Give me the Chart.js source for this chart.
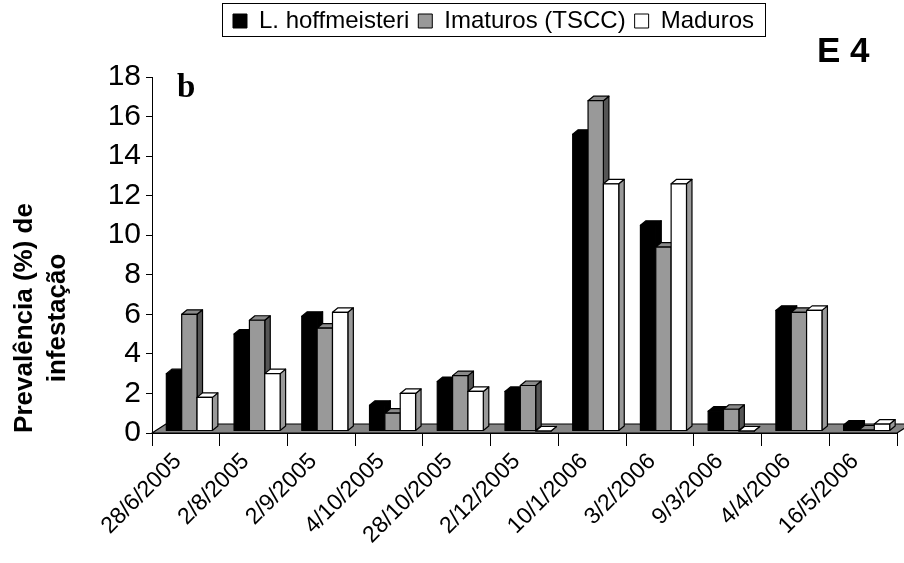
<!DOCTYPE html>
<html>
<head>
<meta charset="utf-8">
<script src="https://cdn.jsdelivr.net/npm/chart.js@4.4.0/dist/chart.umd.min.js"></script>
<style>
  html, body { margin: 0; padding: 0; background: #fff; }
</style>
</head>
<body>
<canvas id="grafico" width="904" height="563"></canvas>
<script>
const fechas = ['28/6/2005', '2/8/2005', '2/9/2005', '4/10/2005', '28/10/2005', '2/12/2005',
  '10/1/2006', '3/2/2006', '9/3/2006', '4/4/2006', '16/5/2006'];
const hoffmeisteri = [2.9, 4.9, 5.8, 1.3, 2.5, 2.0, 15.0, 10.4, 1.0, 6.1, 0.3];
const imaturos = [5.9, 5.6, 5.2, 0.9, 2.8, 2.3, 16.7, 9.3, 1.1, 6.0, 0.05];
const maduros = [1.7, 2.9, 6.0, 1.9, 2.0, 0, 12.5, 12.5, 0, 6.1, 0.35];
const ticksY = [0, 2, 4, 6, 8, 10, 12, 14, 16, 18];

// colores de cada serie: frente, tapa, lado
const estilos = [
  { frente: '#000000', tapa: '#000000', lado: '#000000' },
  { frente: '#999999', tapa: '#8a8a8a', lado: '#555555' },
  { frente: '#ffffff', tapa: '#ffffff', lado: '#999999' },
];

const PROF_BARRA = [5.5, -4.5];   // profundidad de cada barra
const DESPL_BARRA = [3.5, -2];    // barras un poco detras del frente
const PROF_PISO = [14, -9];

const dibujarCara = (ctx, puntos, relleno) => {
  ctx.beginPath();
  ctx.moveTo(puntos[0][0], puntos[0][1]);
  puntos.slice(1).forEach(([x, y]) => ctx.lineTo(x, y));
  ctx.closePath();
  ctx.fillStyle = relleno;
  ctx.fill();
  ctx.stroke();
};

const dibujarBarra = (ctx, barra, estilo) => {
  const [dx, dy] = PROF_BARRA;
  const x0 = barra.x - barra.width / 2 + DESPL_BARRA[0];
  const x1 = barra.x + barra.width / 2 + DESPL_BARRA[0];
  const arriba = barra.y + DESPL_BARRA[1];
  const base = barra.base + DESPL_BARRA[1];
  dibujarCara(ctx, [[x1, base], [x1 + dx, base + dy], [x1 + dx, arriba + dy], [x1, arriba]], estilo.lado);
  dibujarCara(ctx, [[x0, arriba], [x0 + dx, arriba + dy], [x1 + dx, arriba + dy], [x1, arriba]], estilo.tapa);
  dibujarCara(ctx, [[x0, arriba], [x1, arriba], [x1, base], [x0, base]], estilo.frente);
};

const barras3D = {
  id: 'barras3D',
  beforeDatasetsDraw(chart) {
    const ctx = chart.ctx;
    const { left, right, bottom } = chart.chartArea;
    ctx.save();
    ctx.strokeStyle = '#000';
    ctx.lineWidth = 1.2;
    ctx.lineJoin = 'round';
    // piso gris
    dibujarCara(ctx, [[left, bottom], [right, bottom],
      [right + PROF_PISO[0], bottom + PROF_PISO[1]], [left + PROF_PISO[0], bottom + PROF_PISO[1]]], '#858585');
    // barras de izquierda a derecha
    fechas.forEach((_, i) => {
      chart.data.datasets.forEach((_, d) => {
        dibujarBarra(ctx, chart.getDatasetMeta(d).data[i], estilos[d]);
      });
    });
    ctx.restore();
    return false;
  },
  afterDraw(chart) {
    const ctx = chart.ctx;
    ctx.save();
    ctx.fillStyle = '#000';
    // titulo del eje y
    ctx.font = 'bold 26px "Liberation Sans", Arial, sans-serif';
    ctx.textAlign = 'center';
    ctx.textBaseline = 'alphabetic';
    ctx.translate(32, 318);
    ctx.rotate(-Math.PI / 2);
    ctx.fillText('Prevalência (%) de', 0, 0);
    ctx.fillText('infestação', 0, 33);
    ctx.restore();

    ctx.save();
    ctx.fillStyle = '#000';
    ctx.textAlign = 'left';
    ctx.textBaseline = 'alphabetic';
    ctx.font = 'bold 33px "Liberation Serif", "Times New Roman", serif';
    ctx.fillText('b', 177, 97);
    ctx.font = 'bold 35px "Liberation Sans", Arial, sans-serif';
    ctx.fillText('E 4', 817, 62);

    // marco de la leyenda
    const leyenda = chart.legend;
    const pad = leyenda.options.labels.padding;
    const ancho = leyenda.lineWidths[0];
    const inicio = (leyenda.left + pad + leyenda.right - ancho) / 2;
    ctx.strokeStyle = '#000';
    ctx.lineWidth = 1;
    ctx.strokeRect(Math.round(inicio - 11) + 0.5, 3.5, Math.round(ancho - pad + 22), 33);
    ctx.restore();
  },
};

const alturaLeyenda = {
  id: 'alturaLeyenda',
  beforeInit(chart) {
    const fitOriginal = chart.legend.fit;
    chart.legend.fit = function () {
      fitOriginal.bind(chart.legend)();
      this.height = 77;
    };
  },
};

const fuente = '"Liberation Sans", Arial, sans-serif';

new Chart(document.getElementById('grafico').getContext('2d'), {
  type: 'bar',
  data: {
    labels: fechas,
    datasets: [
      { label: 'L. hoffmeisteri', data: hoffmeisteri, backgroundColor: estilos[0].frente },
      { label: 'Imaturos (TSCC)', data: imaturos, backgroundColor: estilos[1].frente },
      { label: 'Maduros', data: maduros, backgroundColor: estilos[2].frente },
    ].map((ds) => ({ ...ds, borderColor: '#000', borderWidth: 1, categoryPercentage: 0.68, barPercentage: 1 })),
  },
  options: {
    responsive: false,
    animation: false,
    devicePixelRatio: 1,
    layout: { padding: { left: 90, right: 7, top: 0, bottom: 0 } },
    plugins: {
      legend: {
        position: 'top',
        labels: {
          color: '#000',
          font: { family: fuente, size: 24 },
          boxWidth: 14,
          boxHeight: 14,
          padding: 9,
        },
      },
      tooltip: { enabled: false },
    },
    scales: {
      x: {
        afterFit: (escala) => { escala.height = 130; },
        grid: { offset: true, drawOnChartArea: false, tickLength: 13, color: '#000' },
        border: { color: '#000' },
        ticks: {
          color: '#000',
          font: { family: fuente, size: 23 },
          maxRotation: 45,
          minRotation: 45,
          autoSkip: false,
          labelOffset: -8,
          padding: 2,
        },
      },
      y: {
        min: 0,
        max: 18,
        afterFit: (escala) => { escala.width = 62; },
        afterBuildTicks: (escala) => { escala.ticks = ticksY.map((v) => ({ value: v })); },
        grid: { drawOnChartArea: false, tickLength: 6, color: '#000' },
        border: { color: '#000' },
        ticks: { color: '#000', font: { family: fuente, size: 30 }, padding: 5, autoSkip: false },
      },
    },
  },
  plugins: [alturaLeyenda, barras3D],
});
</script>
</body>
</html>
